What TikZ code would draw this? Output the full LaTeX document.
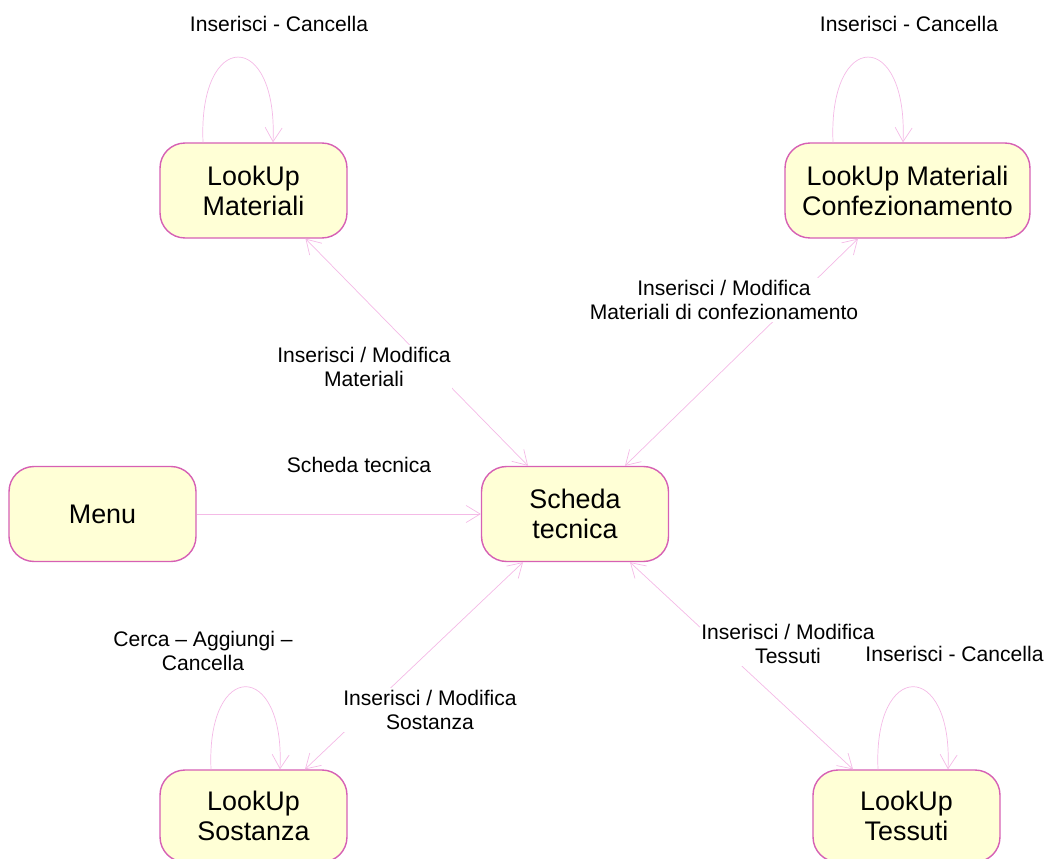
\documentclass[tikz,border=0pt]{standalone}
\usepackage{fontspec}
\setmainfont{Liberation Sans}
\usetikzlibrary{arrows.meta, positioning}

\definecolor{stateborder}{RGB}{214,96,180}
\definecolor{statefill}{RGB}{255,255,214}
\definecolor{transline}{RGB}{244,186,230}

\begin{document}
\begin{tikzpicture}[
    x=0.02cm, y=-0.02cm,
    >={Straight Barb[length=2.8mm,width=3.4mm]},
    state/.style={rectangle, rounded corners=0.5cm, draw=stateborder, line width=0.8pt, fill=statefill, align=center, minimum width=3.74cm, minimum height=1.9cm, font=\fontsize{15.3}{17}\selectfont},
    trans/.style={draw=transline, line width=0.4pt},
    lbl/.style={align=center, fill=white, inner sep=1pt, font=\fontsize{12}{14}\selectfont}
]

    \useasboundingbox (0,0) rectangle (1046,859);

    % States
    \node[state] (menu) at (102.5,514) {Menu};
    \node[state] (scheda) at (575,514) {Scheda\\tecnica};
    \node[state] (materiali) at (253.5,190.5) {LookUp\\Materiali};
    \node[state, minimum width=4.9cm] (confez) at (907.5,190.5) {LookUp Materiali\\Confezionamento};
    \node[state, minimum height=1.84cm] (sostanza) at (253.5,816) {LookUp\\Sostanza};
    \node[state, minimum height=1.84cm] (tessuti) at (906.5,816) {LookUp\\Tessuti};

    % Transitions
    \draw[trans, ->] (menu) -- (scheda);
    \draw[trans, <->] ([xshift=1.04cm]materiali.south) -- ([xshift=-0.94cm]scheda.north);
    \draw[trans, <->] ([xshift=-0.99cm]confez.south) -- ([xshift=1.0cm]scheda.north);
    \draw[trans, <->] ([xshift=-1.04cm]scheda.south) -- ([xshift=1.03cm]sostanza.north);
    \draw[trans, <->] ([xshift=1.1cm]scheda.south) -- ([xshift=-1.07cm]tessuti.north);

    % Self loops
    \draw[trans, ->] ([xshift=-1.01cm]materiali.north) .. controls +(-0.1cm,2.27cm) and +(0.1cm,2.27cm) .. ([xshift=0.39cm]materiali.north);
    \draw[trans, ->] ([xshift=-1.49cm]confez.north) .. controls +(-0.1cm,2.27cm) and +(0.1cm,2.27cm) .. ([xshift=-0.09cm]confez.north);
    \draw[trans, ->] ([xshift=-0.85cm]sostanza.north) .. controls +(-0.1cm,2.2cm) and +(0.1cm,2.2cm) .. ([xshift=0.53cm]sostanza.north);
    \draw[trans, ->] ([xshift=-0.57cm]tessuti.north) .. controls +(-0.1cm,2.2cm) and +(0.1cm,2.2cm) .. ([xshift=0.83cm]tessuti.north);

    % Labels
    \node[lbl] (l_mat_loop) at (279,24) {Inserisci - Cancella};
    \node[lbl] (l_conf_loop) at (909,24) {Inserisci - Cancella};
    \node[lbl] (l_mat) at (364,367) {Inserisci / Modifica\\Materiali};
    \node[lbl] (l_conf) at (724,300) {Inserisci / Modifica\\Materiali di confezionamento};
    \node[lbl] (l_menu) at (359,465) {Scheda tecnica};
    \node[lbl] (l_sost_loop) at (203,651) {Cerca -- Aggiungi --\\Cancella};
    \node[lbl] (l_sost) at (430,710) {Inserisci / Modifica\\Sostanza};
    \node[lbl] (l_tess) at (788,644) {Inserisci / Modifica\\Tessuti};
    \node[lbl] (l_tess_loop) at (954.5,654) {Inserisci - Cancella};

\end{tikzpicture}
\end{document}
